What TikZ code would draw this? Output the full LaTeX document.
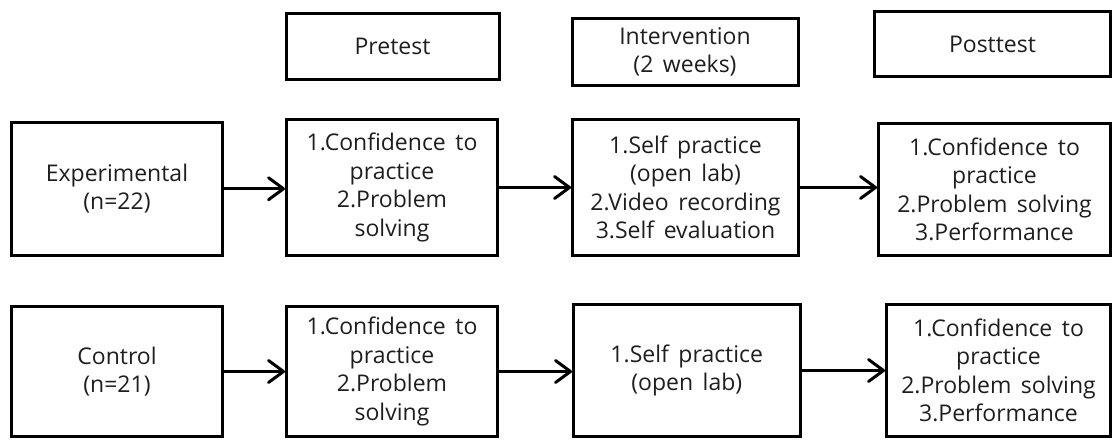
\documentclass[tikz,border=0pt]{standalone}
\usepackage{fontspec}
\setmainfont[WordSpace=1.6]{Open Sans}
\usetikzlibrary{arrows.meta}
\definecolor{txt}{HTML}{1E1E1E}
\tikzset{
  box/.style={draw=black, line width=3pt, rectangle, inner sep=0pt, align=center,
    text=txt, font=\fontsize{23}{28.5}\selectfont},
  arr/.style={draw=black, line width=3pt,
    -{Straight Barb[length=15pt,width=22pt,line cap=round,line join=round]}}
}
\begin{document}
\begin{tikzpicture}[x=1pt,y=-1pt]
\useasboundingbox (0,0) rectangle (1113,439);
% headers
\node[box, minimum width=213pt, minimum height=66pt] (hpre) at (392.5,46) {Pretest};
\node[box, minimum width=226pt, minimum height=67.5pt] (hint) at (685,52) {Intervention\\(2 weeks)};
\node[box, minimum width=236pt, minimum height=65.5pt] (hpost) at (992.5,44) {Posttest};
% row 1
\node[box, minimum width=211pt, minimum height=132.5pt] (exp) at (117,188.75) {Experimental\\(n=22)};
\node[box, minimum width=211pt, minimum height=136pt] (pre1) at (392,187.5) {1.Confidence to\\practice\\2.Problem\\solving};
\node[box, minimum width=226pt, minimum height=136pt] (int1) at (685.5,187.5) {1.Self practice\\(open lab)\\2.Video recording\\3.Self evaluation};
\node[box, minimum width=232pt, minimum height=132pt] (post1) at (994.5,189.5) {1.Confidence to\\practice\\2.Problem solving\\3.Performance};
% row 2
\node[box, minimum width=211pt, minimum height=130pt] (ctl) at (117,371.5) {Control\\(n=21)};
\node[box, minimum width=211pt, minimum height=130pt] (pre2) at (392,371.5) {1.Confidence to\\practice\\2.Problem\\solving};
\node[box, minimum width=226.5pt, minimum height=132pt] (int2) at (686.75,370.5) {1.Self practice\\(open lab)};
\node[box, minimum width=224pt, minimum height=132pt] (post2) at (998.5,370.5) {1.Confidence to\\practice\\2.Problem solving\\3.Performance};
% arrows
\draw[arr] (exp.east) -- (exp.east -| pre1.west);
\draw[arr] (pre1.east) -- (pre1.east -| int1.west);
\draw[arr] (int1.east) -- (int1.east -| post1.west);
\draw[arr] (ctl.east) -- (ctl.east -| pre2.west);
\draw[arr] (pre2.east) -- (pre2.east -| int2.west);
\draw[arr] (int2.east) -- (int2.east -| post2.west);
\end{tikzpicture}
\end{document}
